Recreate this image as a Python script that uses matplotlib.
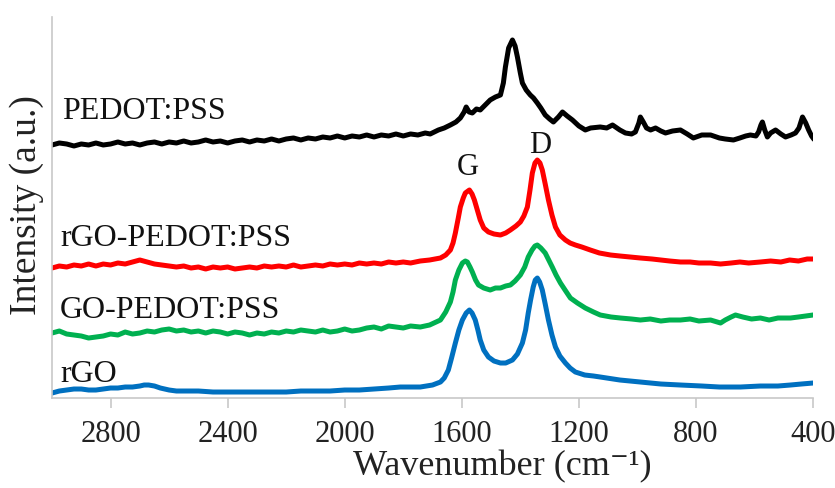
import matplotlib
matplotlib.use("Agg")
import matplotlib.pyplot as plt

#%% Raman spectra (offset traces, arbitrary units)
wn_pedot = [3000, 2975, 2950, 2925, 2900, 2875, 2850, 2825, 2800, 2775, 2750, 2725,
            2700, 2675, 2650, 2625, 2600, 2575, 2550, 2525, 2500, 2475, 2450, 2425,
            2400, 2375, 2350, 2325, 2300, 2275, 2250, 2225, 2200, 2175, 2150, 2125,
            2100, 2075, 2050, 2025, 2000, 1975, 1950, 1925, 1900, 1875, 1850, 1825,
            1800, 1775, 1750, 1725, 1708, 1680, 1660, 1639, 1620, 1605, 1592, 1585,
            1575, 1564, 1550, 1537, 1520, 1503, 1485, 1468, 1458, 1451, 1440, 1427,
            1418, 1410, 1400, 1393, 1380, 1366, 1355, 1342, 1330, 1315, 1300, 1287,
            1270, 1256, 1240, 1222, 1200, 1178, 1160, 1127, 1105, 1085, 1060, 1041,
            1020, 1007, 995, 990, 980, 969, 955, 938, 920, 904, 880, 853,
            830, 809, 780, 750, 720, 700, 672, 650, 630, 614, 595, 586,
            578, 573, 565, 556, 545, 528, 510, 494, 475, 460, 448, 436,
            425, 415, 405, 400]
i_pedot = [253, 255, 254, 252, 254, 253, 255, 253, 254, 256, 254, 255,
           253, 255, 256, 254, 256, 255, 257, 255, 256, 258, 256, 257,
           255, 257, 258, 256, 258, 257, 259, 257, 259, 260, 258, 260,
           259, 261, 260, 262, 260, 262, 261, 263, 261, 263, 262, 264,
           262, 264, 263, 265, 264, 268, 270, 273, 276, 280, 286, 291,
           286, 285, 289, 288, 293, 298, 301, 303, 315, 331, 350, 358,
           352, 341, 325, 315, 308, 303, 300, 295, 290, 283, 279, 276,
           281, 286, 282, 278, 272, 268, 270, 271, 270, 273, 268, 265,
           264, 266, 275, 281, 276, 270, 268, 270, 267, 265, 267, 268,
           264, 260, 263, 263, 260, 259, 258, 260, 262, 263, 262, 266,
           273, 276, 268, 261, 265, 268, 264, 261, 263, 265, 270, 281,
           275, 268, 262, 260]

wn_rgo_pedot = [3000, 2975, 2950, 2925, 2900, 2875, 2850, 2825, 2800, 2775, 2750, 2725,
                2700, 2675, 2650, 2625, 2600, 2575, 2550, 2525, 2500, 2475, 2450, 2425,
                2400, 2375, 2350, 2325, 2300, 2275, 2250, 2225, 2200, 2175, 2150, 2125,
                2100, 2075, 2050, 2025, 2000, 1975, 1950, 1925, 1900, 1875, 1850, 1825,
                1800, 1775, 1742, 1710, 1673, 1655, 1639, 1630, 1622, 1612, 1605, 1595,
                1588, 1574, 1565, 1557, 1547, 1537, 1525, 1509, 1490, 1468, 1450, 1434,
                1415, 1400, 1388, 1376, 1367, 1359, 1350, 1342, 1333, 1325, 1315, 1304,
                1292, 1280, 1265, 1246, 1230, 1212, 1190, 1161, 1130, 1092, 1060, 1025,
                990, 950, 920, 890, 853, 820, 790, 750, 716, 680, 650, 620,
                580, 545, 510, 480, 450, 420, 400]
i_rgo_pedot = [130, 132, 131, 133, 132, 134, 132, 134, 133, 135, 134, 136,
               138, 136, 134, 133, 132, 131, 132, 130, 131, 129, 131, 130,
               131, 129, 130, 131, 130, 132, 131, 132, 131, 133, 131, 132,
               133, 132, 134, 133, 134, 133, 135, 134, 135, 134, 136, 135,
               136, 135, 137, 138, 140, 143, 148, 155, 165, 180, 191, 200,
               205, 208, 204, 198, 188, 178, 170, 166, 164, 163, 165, 168,
               172, 176, 182, 191, 208, 225, 235, 238, 235, 228, 214, 198,
               183, 171, 163, 158, 155, 153, 151, 148, 145, 143, 142, 141,
               140, 139, 138, 137, 136, 136, 135, 135, 134, 135, 136, 135,
               136, 137, 136, 138, 137, 139, 139]

wn_go_pedot = [3000, 2975, 2950, 2925, 2900, 2875, 2850, 2825, 2800, 2775, 2750, 2725,
               2700, 2675, 2650, 2625, 2600, 2575, 2550, 2525, 2500, 2475, 2450, 2425,
               2400, 2375, 2350, 2325, 2300, 2275, 2250, 2225, 2200, 2175, 2150, 2125,
               2100, 2075, 2050, 2025, 2000, 1975, 1950, 1925, 1900, 1875, 1850, 1825,
               1800, 1775, 1742, 1710, 1673, 1655, 1639, 1630, 1622, 1610, 1598, 1588,
               1581, 1572, 1564, 1553, 1543, 1525, 1503, 1485, 1468, 1450, 1434, 1418,
               1400, 1385, 1373, 1360, 1350, 1342, 1330, 1315, 1303, 1291, 1278, 1263,
               1245, 1229, 1205, 1178, 1150, 1127, 1090, 1058, 1020, 990, 956, 920,
               890, 853, 820, 790, 750, 716, 700, 680, 665, 640, 610, 580,
               550, 520, 477, 450, 425, 400]
i_go_pedot = [65, 67, 64, 63, 62, 60, 61, 62, 64, 63, 66, 64,
              65, 67, 66, 68, 69, 67, 68, 66, 67, 65, 67, 66,
              64, 66, 65, 63, 65, 64, 66, 65, 67, 66, 68, 67,
              66, 68, 66, 67, 69, 67, 68, 70, 71, 69, 72, 71,
              70, 72, 71, 73, 78, 86, 96, 106, 118, 128, 135, 137,
              136, 131, 126, 118, 113, 110, 108, 110, 110, 112, 113, 117,
              123, 131, 141, 148, 152, 153, 150, 145, 138, 131, 123, 115,
              107, 100, 95, 90, 86, 83, 81, 80, 79, 78, 79, 77,
              78, 78, 79, 77, 78, 75, 78, 81, 83, 81, 79, 80,
              78, 80, 80, 81, 82, 83]

wn_rgo = [3000, 2975, 2950, 2925, 2900, 2875, 2850, 2825, 2800, 2775, 2750, 2725,
          2700, 2685, 2670, 2650, 2630, 2615, 2600, 2575, 2550, 2500, 2450, 2400,
          2350, 2300, 2250, 2200, 2150, 2100, 2050, 2000, 1950, 1900, 1850, 1810,
          1742, 1700, 1673, 1660, 1646, 1635, 1622, 1610, 1598, 1585, 1574, 1565,
          1554, 1545, 1537, 1525, 1509, 1490, 1468, 1450, 1427, 1410, 1393, 1382,
          1373, 1365, 1356, 1349, 1342, 1334, 1325, 1315, 1304, 1292, 1280, 1265,
          1246, 1230, 1212, 1180, 1150, 1127, 1060, 990, 920, 853, 780, 720,
          648, 580, 520, 477, 440, 400]
i_rgo = [5, 7, 8, 9, 9, 8, 8, 9, 10, 10, 11, 11,
         12, 13, 13, 12, 10, 9, 8, 7, 7, 7, 6, 6,
         6, 6, 6, 6, 7, 7, 7, 8, 8, 9, 10, 11,
         11, 13, 16, 20, 28, 40, 55, 68, 78, 85, 88, 85,
         78, 68, 58, 48, 41, 37, 35, 35, 38, 44, 55, 68,
         85, 98, 111, 118, 120, 116, 108, 94, 78, 63, 51, 42,
         35, 30, 26, 23, 22, 21, 18, 16, 14, 13, 12, 11,
         11, 12, 12, 13, 14, 15]

labels = ["PEDOT:PSS", "rGO-PEDOT:PSS", "GO-PEDOT:PSS", "rGO"]
colors = ["black", "#FF0000", "#00B050", "#0070C0"]
xticks = [2800, 2400, 2000, 1600, 1200, 800, 400]

#%% Plot
plt.rcParams['font.family'] = ['Liberation Serif', 'DejaVu Serif']

fig = plt.figure(figsize=(8.35, 4.88), dpi=100)
ax = fig.add_axes([0.0623, 0.1844, 0.9114, 0.7808])

series = [(wn_pedot, i_pedot), (wn_rgo_pedot, i_rgo_pedot),
          (wn_go_pedot, i_go_pedot), (wn_rgo, i_rgo)]
for (x, y), c in zip(series, colors):
    ax.plot(x, y, color=c, lw=3.6, solid_joinstyle='round')

ax.set_xlim(3000, 400)
ax.set_ylim(0, 381)
ax.set_xticks(xticks)
ax.set_yticks([])

for s in ['top', 'right']:
    ax.spines[s].set_visible(False)
for s in ['left', 'bottom']:
    ax.spines[s].set_color('#c8c8c8')
    ax.spines[s].set_linewidth(1.2)
ax.tick_params(axis='x', colors='#c8c8c8', length=7, width=1.2, pad=9,
               labelsize=22, labelcolor='#222222')

# trace labels
lab_pos = [(2966, 286), (2973, 160), (2973, 88), (2973, 24)]
for txt, (lx, ly) in zip(labels, lab_pos):
    ax.text(lx, ly, txt, fontsize=23, ha='left', va='center', color='#111111')
ax.text(1578, 230, "G", fontsize=22, ha='center', va='center', color='#111111')
ax.text(1332, 252, "D", fontsize=22, ha='center', va='center', color='#111111')

fig.text(0.0323, 0.580, "Intensity (a.u.)", rotation=90, fontsize=27,
         ha='center', va='center', color='#222222')
fig.text(0.601, 0.043, "Wavenumber (cm\u207b\u00b9)", fontsize=26,
         ha='center', va='center', color='#222222')

fig.savefig("out.png", dpi=100)
